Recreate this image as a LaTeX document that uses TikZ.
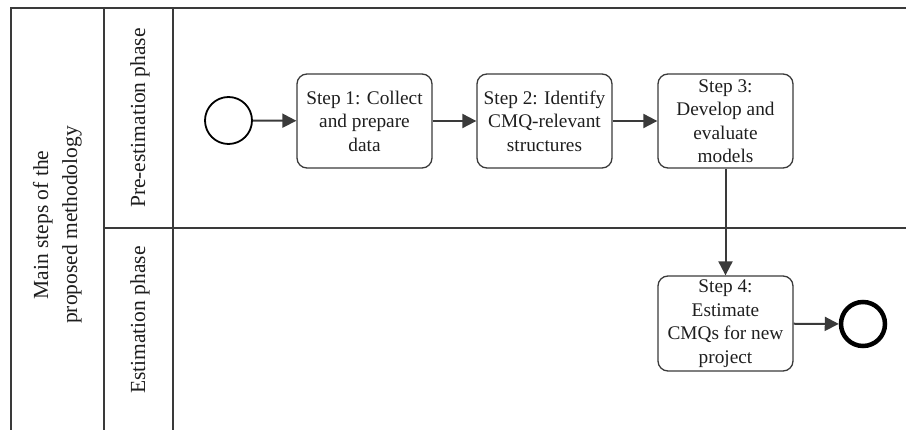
\documentclass[tikz,border=0pt]{standalone}
\usepackage{fontspec}
\setmainfont{Liberation Serif}
\usetikzlibrary{arrows.meta}
\definecolor{linegray}{HTML}{3A3A3A}
\definecolor{textgray}{HTML}{1E1E1E}
\tikzset{
  lane/.style={draw=linegray, line width=2pt},
  stepbox/.style={draw=linegray, line width=1.3pt, rounded corners=10pt, minimum width=135pt, minimum height=94pt, align=center, inner sep=0pt, text=textgray, font=\fontsize{19.3}{23.5}\selectfont},
  startev/.style={circle, draw=black, line width=1.8pt, minimum size=47pt, inner sep=0pt},
  endev/.style={circle, draw=black, line width=4.5pt, minimum size=44pt, inner sep=0pt},
  flow/.style={draw=linegray, line width=2pt, -{Triangle[length=14pt,width=14pt]}},
  lanelabel/.style={rotate=90, align=center, text=textgray, font=\fontsize{21.5}{29}\selectfont},
}
\begin{document}
\begin{tikzpicture}[x=1pt, y=-1pt]
\useasboundingbox (0,0) rectangle (906,430);
% pool and lanes
\draw[lane] (906,8) -- (11,8) -- (11,430);
\draw[lane] (104,8) -- (104,430);
\draw[lane] (173,8) -- (173,430);
\draw[lane] (104,228) -- (906,228);
% labels
\node[lanelabel] (pool) at (57.5,225) {Main steps of the\\proposed methodology};
\node[lanelabel] (lane1) at (140,118) {Pre-estimation phase};
\node[lanelabel] (lane2) at (140,320) {Estimation phase};
% events and tasks
\node[startev] (start) at (228.5,120.5) {};
\node[stepbox] (s1) at (364.5,121) {Step 1: Collect\\and prepare\\data};
\node[stepbox] (s2) at (544.5,121) {Step 2: Identify\\CMQ-relevant\\structures};
\node[stepbox] (s3) at (725.5,121) {Step 3:\\Develop and\\evaluate\\models};
\node[stepbox, minimum height=95pt] (s4) at (725.5,323.5) {Step 4:\\Estimate\\CMQs for new\\project};
\node[endev] (end) at (863,324) {};
% flows
\draw[flow] (start) -- (s1);
\draw[flow] (s1) -- (s2);
\draw[flow] (s2) -- (s3);
\draw[flow] (s3) -- (s4);
\draw[flow] (s4) -- (end);
\end{tikzpicture}
\end{document}
